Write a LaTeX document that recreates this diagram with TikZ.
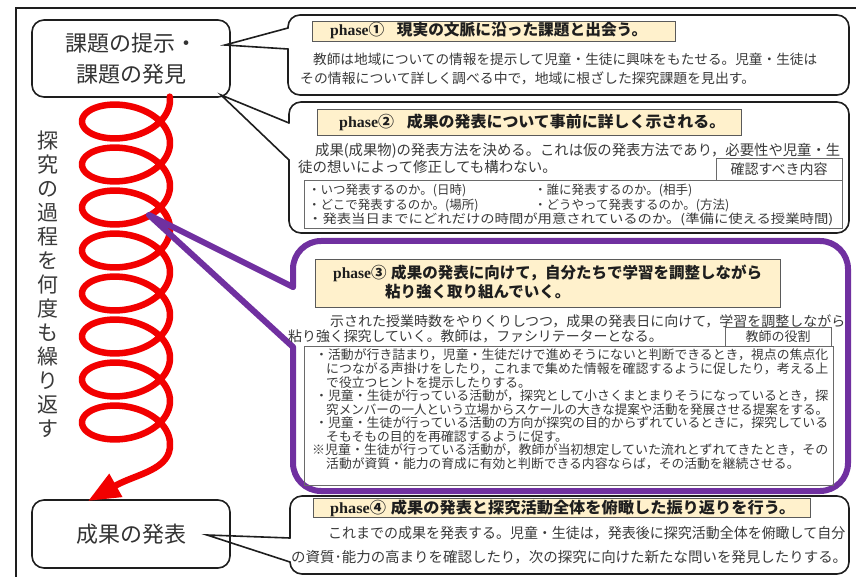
\documentclass[tikz,border=0pt]{standalone}
\usepackage{fontspec}
\usepackage{graphicx}
\setmainfont{Noto Sans CJK JP}
\newfontfamily\lat{Liberation Serif}
\usetikzlibrary{arrows.meta}
\definecolor{ink}{HTML}{1E1E1E}
\definecolor{txt}{HTML}{3A3A3A}
\definecolor{ttl}{HTML}{333333}
\definecolor{bandfill}{HTML}{FFF1CC}
\definecolor{bandline}{HTML}{5A5A5A}
\definecolor{gline}{HTML}{6A6A6A}
\definecolor{purp}{HTML}{7030A0}
\definecolor{spred}{HTML}{F20000}
\newcommand\fsz[1]{\fontsize{#1}{#1}\selectfont}
\newcommand\fitw[2]{\resizebox{#1pt}{\height}{#2}}
\begin{document}
\begin{tikzpicture}[x=1pt,y=-1pt,
  tl/.style={anchor=west, inner sep=0pt, text=txt},
  bt/.style={anchor=west, inner sep=0pt, text=ink, font=\fsz{15.5}\bfseries},
  call/.style={draw=ink, line width=1.6pt, line cap=round},
  band/.style={draw=bandline, fill=bandfill, line width=0.9pt},
  tagbox/.style={draw=gline, line width=0.9pt, fill=white},
  listbox/.style={draw=gline, line width=0.9pt},
  tbox/.style={draw=ink, line width=1.6pt, rounded corners=12pt, fill=white, text=ttl, align=center},
  spiral/.style={draw=spred, line width=6.5pt, line join=round, line cap=round},
]
\useasboundingbox (0,0) rectangle (856,577);
\fill[white] (0,0) rectangle (856,577);
% outer frame
\draw[ink, line width=1.4pt] (858,8) -- (16,8) -- (16,579);

% left boxes
\node[tbox, minimum width=198pt, minimum height=77pt, font=\fontsize{22}{31}\selectfont] (b1) at (131,58.5) {課題の提示・\\課題の発見};
\node[tbox, minimum width=198pt, minimum height=68pt, font=\fsz{22}] (b4) at (131,534) {成果の発表};

% vertical text
\node[font=\fontsize{21}{24}\selectfont, align=center, text=txt, inner sep=0pt] (vt) at (48,284)
  {探\\究\\の\\過\\程\\を\\何\\度\\も\\繰\\り\\返\\す};

% spiral
\coordinate (spE) at (170,444.0);
\coordinate (atip) at (88,501);
\draw[spiral] plot[domain=-0.1:50.2655, samples=720, variable=\t]
  ({126+44*cos(\t r)}, {100+6.8437*\t+26.8*sin(\t r)});
\draw[spiral, line cap=butt, -{Triangle[length=32pt,width=25pt]}] (spE) .. controls (171,470) and (136,474) .. (atip);

% tips of callouts
\coordinate (t1) at (225,45);
\coordinate (t2) at (221,95);
\coordinate (t3) at (149,215);
\coordinate (t4) at (207,535);

% ---------- phase 1 ----------
\draw[call, rounded corners=12pt] (288,49) -- (288,95) -- (849,95) -- (849,15) -- (288,15) -- (288,28);
\draw[call, line join=miter] (288,28) -- (t1) -- (288,49);
\node[band, minimum width=363pt, minimum height=20pt, inner sep=0pt] (p1b) at (493.5,31) {};
\node[bt] (p1h) at (330,31) {\fitw{317}{{\lat phase}①\hspace{0.8em}現実の文脈に沿った課題と出会う。}};
\node[tl, font=\fsz{13.6}] (p1l1) at (313,59) {\fitw{504}{教師は地域についての情報を提示して児童・生徒に興味をもたせる。児童・生徒は}};
\node[tl, font=\fsz{13.6}] (p1l2) at (300,78) {\fitw{455}{その情報について詳しく調べる中で，地域に根ざした探究課題を見出す。}};

% ---------- phase 2 ----------
\draw[call, rounded corners=12pt] (289,160) -- (289,233) -- (849,233) -- (849,102) -- (289,102) -- (289,123);
\draw[call, line join=miter] (289,123) -- (t2) -- (289,160);
\node[band, minimum width=424pt, minimum height=26pt, inner sep=0pt] (p2b) at (529,122) {};
\node[bt] (p2h) at (339,122) {\fitw{386}{{\lat phase}②\hspace{0.8em}成果の発表について事前に詳しく示される。}};
\node[tl, font=\fsz{14.5}] (p2l1) at (315,151) {\fitw{525}{成果(成果物)の発表方法を決める。これは仮の発表方法であり，必要性や児童・生}};
\node[tl, font=\fsz{14.5}] (p2l2) at (298,167) {徒の想いによって修正しても構わない。};
\node[listbox, minimum width=538pt, minimum height=48pt, inner sep=0pt] (p2list) at (573,204) {};
\node[tagbox, minimum width=126pt, minimum height=22pt, inner sep=0pt, text=txt, font=\fsz{14}] (p2tag) at (779,169) {確認すべき内容};
\node[tl, font=\fsz{12.5}] (p2i1) at (308,190) {・いつ発表するのか。(日時)};
\node[tl, font=\fsz{12.5}] (p2i2) at (534,190) {・誰に発表するのか。(相手)};
\node[tl, font=\fsz{12.5}] (p2i3) at (308,205) {・どこで発表するのか。(場所)};
\node[tl, font=\fsz{12.5}] (p2i4) at (534,205) {・どうやって発表するのか。(方法)};
\node[tl, font=\fsz{12.5}] (p2i5) at (308,219) {\fitw{525}{・発表当日までにどれだけの時間が用意されているのか。(準備に使える授業時間)}};

% ---------- phase 3 ----------
\draw[draw=purp, line width=6pt, line cap=round, rounded corners=28pt] (293,347) -- (293,491) -- (848,491) -- (848,241) -- (293,241) -- (293,287);
\draw[draw=purp, line width=6pt, line cap=round, line join=round] (293,287) -- (t3) -- (293,347);
\node[band, minimum width=465pt, minimum height=48pt, inner sep=0pt] (p3b) at (547.5,283) {};
\node[bt] (p3h1) at (333,273) {\fitw{429}{{\lat phase}③\hspace{0.3em}成果の発表に向けて，自分たちで学習を調整しながら}};
\node[bt] (p3h2) at (385,292) {粘り強く取り組んでいく。};
\node[tl, font=\fsz{13.9}] (p3l1) at (330,321) {\fitw{515}{示された授業時数をやりくりしつつ，成果の発表日に向けて，学習を調整しながら}};
\node[tl, font=\fsz{13.9}] (p3l2) at (288,336) {粘り強く探究していく。教師は，ファシリテーターとなる。};
\node[listbox, minimum width=529pt, minimum height=139pt, inner sep=0pt] (p3list) at (568.5,415.5) {};
\node[tagbox, minimum width=106pt, minimum height=19pt, inner sep=0pt, text=txt, font=\fsz{13}] (p3tag) at (778,336.5) {教師の役割};
\node[tl, font=\fsz{12.8}] (p3i1) at (315,355) {\fitw{513}{・活動が行き詰まり，児童・生徒だけで進めそうにないと判断できるとき，視点の焦点化}};
\node[tl, font=\fsz{12.8}] (p3i2) at (326,368.6) {\fitw{502}{につながる声掛けをしたり，これまで集めた情報を確認するように促したり，考える上}};
\node[tl, font=\fsz{12.8}] (p3i3) at (326,382.2) {で役立つヒントを提示したりする。};
\node[tl, font=\fsz{12.8}] (p3i4) at (315,395.8) {\fitw{513}{・児童・生徒が行っている活動が，探究として小さくまとまりそうになっているとき，探}};
\node[tl, font=\fsz{12.8}] (p3i5) at (326,409.4) {\fitw{502}{究メンバーの一人という立場からスケールの大きな提案や活動を発展させる提案をする。}};
\node[tl, font=\fsz{12.8}] (p3i6) at (315,423) {\fitw{513}{・児童・生徒が行っている活動の方向が探究の目的からずれているときに，探究している}};
\node[tl, font=\fsz{12.8}] (p3i7) at (326,436.6) {そもそもの目的を再確認するように促す。};
\node[tl, font=\fsz{12.8}] (p3i8) at (312,450.2) {\fitw{516}{※児童・生徒が行っている活動が，教師が当初想定していた流れとずれてきたとき，その}};
\node[tl, font=\fsz{12.8}] (p3i9) at (326,463.8) {活動が資質・能力の育成に有効と判断できる内容ならば，その活動を継続させる。};

% ---------- phase 4 ----------
\draw[call, rounded corners=12pt] (290,562) -- (290,574) -- (849,574) -- (849,496) -- (290,496) -- (290,538);
\draw[call, line join=miter] (290,538) -- (t4) -- (290,562);
\node[band, minimum width=497pt, minimum height=19pt, inner sep=0pt] (p4b) at (561.5,508) {};
\node[bt] (p4h) at (330,508) {\fitw{465}{{\lat phase}④\hspace{0.3em}成果の発表と探究活動全体を俯瞰した振り返りを行う。}};
\node[tl, font=\fsz{14.4}] (p4l1) at (328,533) {\fitw{517}{これまでの成果を発表する。児童・生徒は，発表後に探究活動全体を俯瞰して自分}};
\node[tl, font=\fsz{14.4}] (p4l2) at (291,557) {\fitw{556}{の資質･能力の高まりを確認したり，次の探究に向けた新たな問いを発見したりする。}};
\end{tikzpicture}
\end{document}
